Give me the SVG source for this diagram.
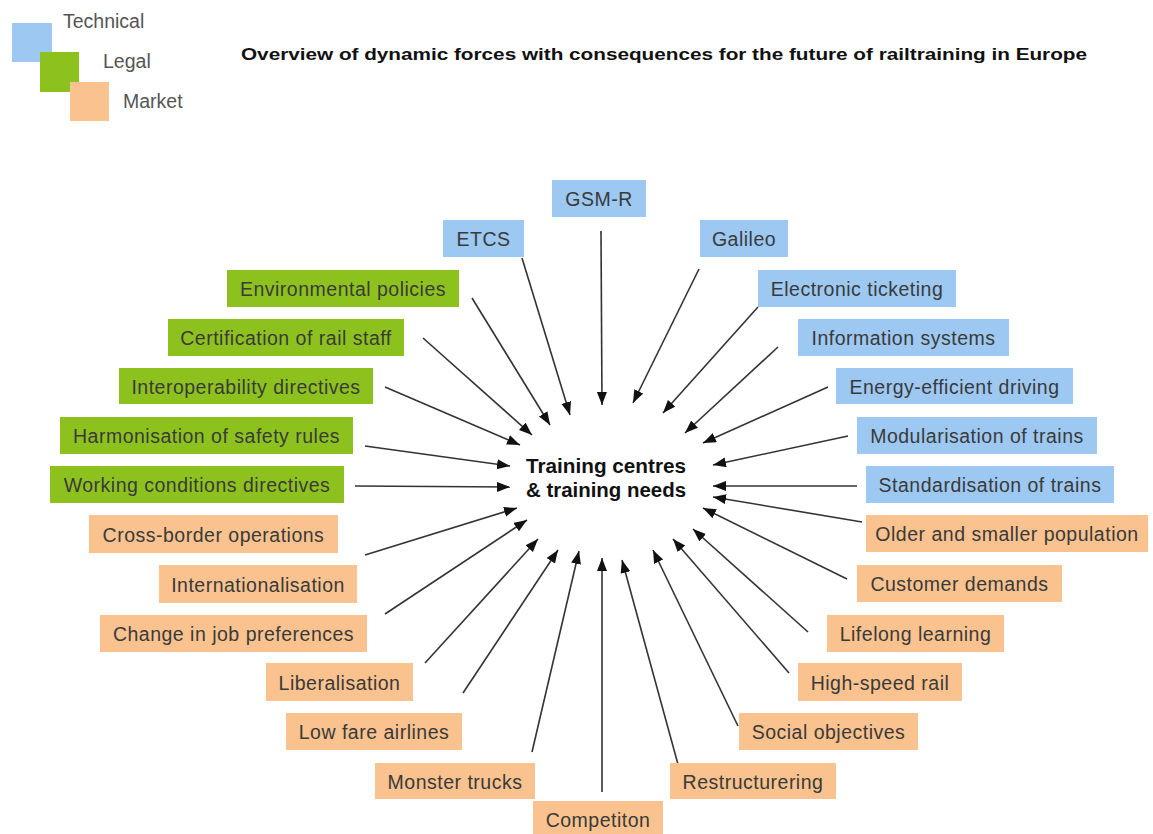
<svg xmlns="http://www.w3.org/2000/svg" width="1153" height="834" viewBox="0 0 1153 834">
<style>
  .t { fill: #9cc8f2; }
  .l { fill: #8dc21e; }
  .m { fill: #f9c28e; }
  .lbl { font-family: "Liberation Sans", Arial, sans-serif; font-size: 19.5px; letter-spacing: 0.5px; fill: #3a3a3a; text-anchor: middle; }
  .leg { font-family: "Liberation Sans", Arial, sans-serif; font-size: 19.5px; fill: #555; }
  .title { font-family: "Liberation Sans", Arial, sans-serif; font-size: 16px; font-weight: bold; fill: #111; }
  .center { font-family: "Liberation Sans", Arial, sans-serif; font-size: 20px; font-weight: bold; fill: #111; text-anchor: middle; }
  .conn line { stroke: #333; stroke-width: 1.6; marker-end: url(#arr); }
</style>
<defs>
  <marker id="arr" markerUnits="userSpaceOnUse" markerWidth="14" markerHeight="11" refX="13" refY="5" orient="auto">
    <path d="M0,0 L13,5 L0,10 z" fill="#111"/>
  </marker>
</defs>
<rect width="1153" height="834" fill="#fff"/>

<g id="legend">
  <rect class="t" x="12" y="23" width="40" height="39"/>
  <rect class="l" x="40" y="52" width="39" height="40"/>
  <rect class="m" x="70" y="82" width="39" height="39"/>
  <text class="leg" x="63" y="28">Technical</text>
  <text class="leg" x="103" y="68">Legal</text>
  <text class="leg" x="123" y="108">Market</text>
</g>

<g id="title">
  <text class="title" x="241" y="60" textLength="846" lengthAdjust="spacingAndGlyphs">Overview of dynamic forces with consequences for the future of railtraining in Europe</text>
</g>

<g class="conn" id="connectors">
  <line x1="601" y1="231" x2="602" y2="405"/>
  <line x1="522" y1="258" x2="570" y2="415"/>
  <line x1="699" y1="269" x2="633" y2="403"/>
  <line x1="472" y1="298" x2="550" y2="425"/>
  <line x1="758" y1="307" x2="663" y2="413"/>
  <line x1="423" y1="338" x2="532" y2="435"/>
  <line x1="778" y1="347" x2="685" y2="433"/>
  <line x1="385" y1="387" x2="520" y2="445"/>
  <line x1="828" y1="387" x2="703" y2="443"/>
  <line x1="365" y1="446" x2="510" y2="466"/>
  <line x1="848" y1="436" x2="713" y2="465"/>
  <line x1="355" y1="486" x2="510" y2="487"/>
  <line x1="857" y1="486" x2="713" y2="486"/>
  <line x1="862" y1="522" x2="713" y2="497"/>
  <line x1="365" y1="555" x2="517" y2="508"/>
  <line x1="847" y1="579" x2="703" y2="508"/>
  <line x1="385" y1="614" x2="527" y2="520"/>
  <line x1="808" y1="632" x2="693" y2="529"/>
  <line x1="425" y1="663" x2="538" y2="539"/>
  <line x1="789" y1="673" x2="673" y2="539"/>
  <line x1="463" y1="693" x2="558" y2="550"/>
  <line x1="738" y1="726" x2="653" y2="550"/>
  <line x1="532" y1="752" x2="579" y2="551"/>
  <line x1="679" y1="768" x2="622" y2="560"/>
  <line x1="602" y1="792" x2="602" y2="558"/>
</g>

<g id="center">
  <text class="center" x="606" y="473" textLength="160" lengthAdjust="spacingAndGlyphs">Training centres</text>
  <text class="center" x="606" y="497" textLength="160" lengthAdjust="spacingAndGlyphs">&amp; training needs</text>
</g>

<g id="gsmr"><rect class="t" x="552" y="180" width="94" height="37"/><text class="lbl" x="599" y="205.5">GSM-R</text></g>
<g id="etcs"><rect class="t" x="443" y="220" width="81" height="37"/><text class="lbl" x="483.5" y="245.5">ETCS</text></g>
<g id="galileo"><rect class="t" x="700" y="220" width="88" height="37"/><text class="lbl" x="744" y="245.5">Galileo</text></g>
<g id="eticket"><rect class="t" x="758" y="270" width="198" height="37"/><text class="lbl" x="857" y="295.5">Electronic ticketing</text></g>
<g id="infosys"><rect class="t" x="798" y="319" width="211" height="37"/><text class="lbl" x="903.5" y="344.5">Information systems</text></g>
<g id="energy"><rect class="t" x="836" y="368" width="237" height="36"/><text class="lbl" x="954.5" y="393.5">Energy-efficient driving</text></g>
<g id="modular"><rect class="t" x="857" y="417" width="240" height="37"/><text class="lbl" x="977" y="442.5">Modularisation of trains</text></g>
<g id="standard"><rect class="t" x="866" y="466" width="248" height="37"/><text class="lbl" x="990" y="491.5">Standardisation of trains</text></g>

<g id="environ"><rect class="l" x="227" y="270" width="232" height="37"/><text class="lbl" x="343" y="295.5">Environmental policies</text></g>
<g id="cert"><rect class="l" x="168" y="319" width="236" height="37"/><text class="lbl" x="286" y="344.5">Certification of rail staff</text></g>
<g id="interop"><rect class="l" x="119" y="368" width="254" height="36"/><text class="lbl" x="246" y="393.5">Interoperability directives</text></g>
<g id="harmon"><rect class="l" x="60" y="417" width="293" height="37"/><text class="lbl" x="206.5" y="442.5">Harmonisation of safety rules</text></g>
<g id="working"><rect class="l" x="50" y="466" width="294" height="37"/><text class="lbl" x="197" y="491.5">Working conditions directives</text></g>

<g id="crossborder"><rect class="m" x="89" y="515" width="249" height="38"/><text class="lbl" x="213.5" y="541.5">Cross-border operations</text></g>
<g id="intl"><rect class="m" x="159" y="565" width="198" height="38"/><text class="lbl" x="258" y="591.5">Internationalisation</text></g>
<g id="jobpref"><rect class="m" x="100" y="615" width="267" height="37"/><text class="lbl" x="233.5" y="640.5">Change in job preferences</text></g>
<g id="liberal"><rect class="m" x="266" y="663" width="147" height="38"/><text class="lbl" x="339.5" y="689.5">Liberalisation</text></g>
<g id="lowfare"><rect class="m" x="286" y="713" width="176" height="37"/><text class="lbl" x="374" y="738.5">Low fare airlines</text></g>
<g id="monster"><rect class="m" x="375" y="763" width="160" height="36"/><text class="lbl" x="455" y="788.5">Monster trucks</text></g>
<g id="competiton"><rect class="m" x="533" y="801" width="130" height="40"/><text class="lbl" x="598" y="826.5">Competiton</text></g>
<g id="older"><rect class="m" x="866" y="515" width="282" height="37"/><text class="lbl" x="1007" y="540.5">Older and smaller population</text></g>
<g id="customer"><rect class="m" x="857" y="565" width="205" height="37"/><text class="lbl" x="959.5" y="590.5">Customer demands</text></g>
<g id="lifelong"><rect class="m" x="827" y="615" width="177" height="37"/><text class="lbl" x="915.5" y="640.5">Lifelong learning</text></g>
<g id="highspeed"><rect class="m" x="798" y="663" width="164" height="38"/><text class="lbl" x="880" y="689.5">High-speed rail</text></g>
<g id="social"><rect class="m" x="739" y="713" width="179" height="37"/><text class="lbl" x="828.5" y="738.5">Social objectives</text></g>
<g id="restruct"><rect class="m" x="670" y="763" width="166" height="36"/><text class="lbl" x="753" y="788.5">Restructurering</text></g>
</svg>
